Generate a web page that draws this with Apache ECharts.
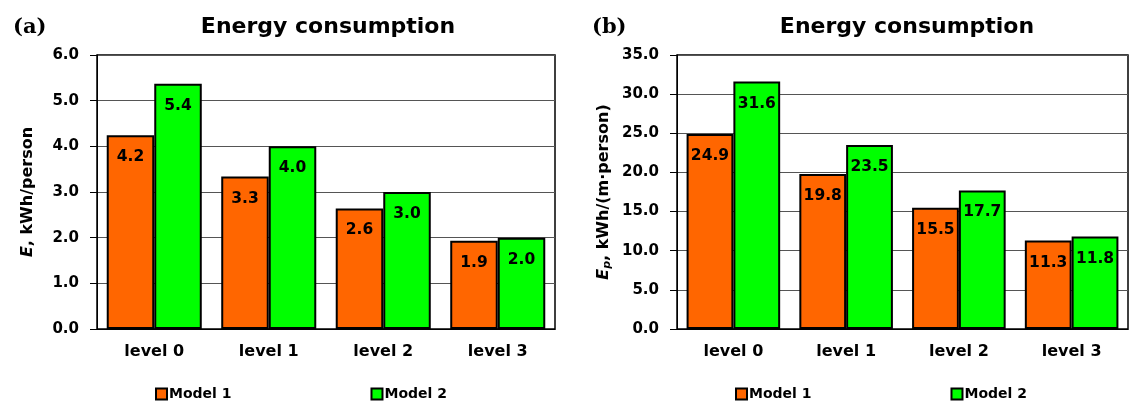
<!DOCTYPE html>
<html><head><meta charset="utf-8">
<script src="https://cdn.jsdelivr.net/npm/echarts@6/dist/echarts.min.js"></script>
<style>html,body{margin:0;padding:0;background:#fff}#c{width:1137px;height:401px}</style>
</head><body><div id="c"></div>
<script>
const categories = ['level 0', 'level 1', 'level 2', 'level 3'];
const seriesNames = ['Model 1', 'Model 2'];
// panel (a): E, kWh/person
const aModel1 = [4.24, 3.34, 2.64, 1.93];
const aModel2 = [5.37, 4.0, 3.0, 2.0];
// panel (b): Ep, kWh/(m·person)
const bModel1 = [24.9, 19.8, 15.5, 11.3];
const bModel2 = [31.6, 23.5, 17.7, 11.8];
const aTicks = {min: 0, max: 6, interval: 1};
const bTicks = {min: 0, max: 35, interval: 5};
const colors = ['#FF6600', '#00FF00'];

const FONT = '"DejaVu Sans", Arial, sans-serif';
const SERIF = '"DejaVu Serif", "Times New Roman", serif';
const chart = echarts.init(document.getElementById('c'), null, {renderer: 'canvas'});

function yAxis(idx, t, nameRich, nameGap) {
  return {
    type: 'value', gridIndex: idx, min: t.min, max: t.max, interval: t.interval,
    axisLine: {show: true, lineStyle: {color: '#000', width: 1}},
    axisTick: {show: true, inside: false, length: 7, lineStyle: {color: '#000'}},
    axisLabel: {margin: 18, color: '#000', fontFamily: FONT, fontWeight: 'bold', fontSize: 15,
      formatter: v => v.toFixed(1)},
    splitLine: {show: true, lineStyle: {color: '#555', width: 1}},
    name: nameRich, nameLocation: 'middle', nameRotate: 90, nameGap: nameGap,
    nameTextStyle: {
      color: '#000', fontFamily: FONT, fontWeight: 'bold', fontSize: 16,
      rich: {
        i: {fontFamily: FONT, fontWeight: 'bold', fontStyle: 'italic', fontSize: 16, color: '#000'},
        s: {fontFamily: FONT, fontWeight: 'bold', fontStyle: 'italic', fontSize: 11, color: '#000', padding: [8, 0, 0, 0]},
        n: {fontFamily: FONT, fontWeight: 'bold', fontSize: 16, color: '#000'}
      }
    }
  };
}
function xAxis(idx) {
  return {
    type: 'category', gridIndex: idx, data: categories,
    axisLine: {show: true, lineStyle: {color: '#000', width: 1}},
    axisTick: {show: false},
    axisLabel: {margin: 15, color: '#000', fontFamily: FONT, fontWeight: 'bold', fontSize: 16}
  };
}
function bar(name, data, idx, color) {
  return {
    type: 'bar', name: name, data: data, xAxisIndex: idx, yAxisIndex: idx,
    barGap: '0%', barCategoryGap: '17%',
    itemStyle: {color: color, borderColor: '#000', borderWidth: 2},
    label: {show: true, position: 'insideTop', distance: 14, color: '#000',
      fontFamily: FONT, fontWeight: 'bold', fontSize: 15.5,
      formatter: p => p.value.toFixed(1)},
    emphasis: {disabled: true}
  };
}
function legend(left) {
  return {data: seriesNames, left: left, top: 382, itemGap: 139, itemWidth: 11, itemHeight: 11,
    icon: 'rect', selectedMode: false,
    itemStyle: {borderColor: '#000', borderWidth: 2},
    textStyle: {fontFamily: FONT, fontWeight: 'bold', fontSize: 14, color: '#000', padding: [0, 0, 0, -3]}};
}

const option = {
  animation: false,
  color: colors,
  title: [
    {text: 'Energy consumption', left: 323, top: 11, textAlign: 'center',
      textStyle: {fontFamily: FONT, fontWeight: 'bold', fontSize: 22, color: '#000'}},
    {text: 'Energy consumption', left: 902, top: 11, textAlign: 'center',
      textStyle: {fontFamily: FONT, fontWeight: 'bold', fontSize: 22, color: '#000'}},
    {text: '(a)', left: 8, top: 12,
      textStyle: {fontFamily: SERIF, fontWeight: 'bold', fontSize: 21, color: '#000'}},
    {text: '(b)', left: 587, top: 12,
      textStyle: {fontFamily: SERIF, fontWeight: 'bold', fontSize: 21, color: '#000'}}
  ],
  grid: [
    {left: 97, top: 55, width: 458, height: 274, show: true, borderColor: '#000', borderWidth: 1.5, backgroundColor: 'transparent'},
    {left: 677, top: 55, width: 451, height: 274, show: true, borderColor: '#000', borderWidth: 1.5, backgroundColor: 'transparent'}
  ],
  legend: [legend(150), legend(730)],
  xAxis: [xAxis(0), xAxis(1)],
  yAxis: [
    yAxis(0, aTicks, '{i|E}{n|, kWh/person}', 61),
    yAxis(1, bTicks, '{i|E}{s|p}{n|, kWh/(m·person)}', 64)
  ],
  series: [
    bar(seriesNames[0], aModel1, 0, colors[0]),
    bar(seriesNames[1], aModel2, 0, colors[1]),
    bar(seriesNames[0], bModel1, 1, colors[0]),
    bar(seriesNames[1], bModel2, 1, colors[1])
  ]
};
chart.setOption(option);
</script></body></html>
